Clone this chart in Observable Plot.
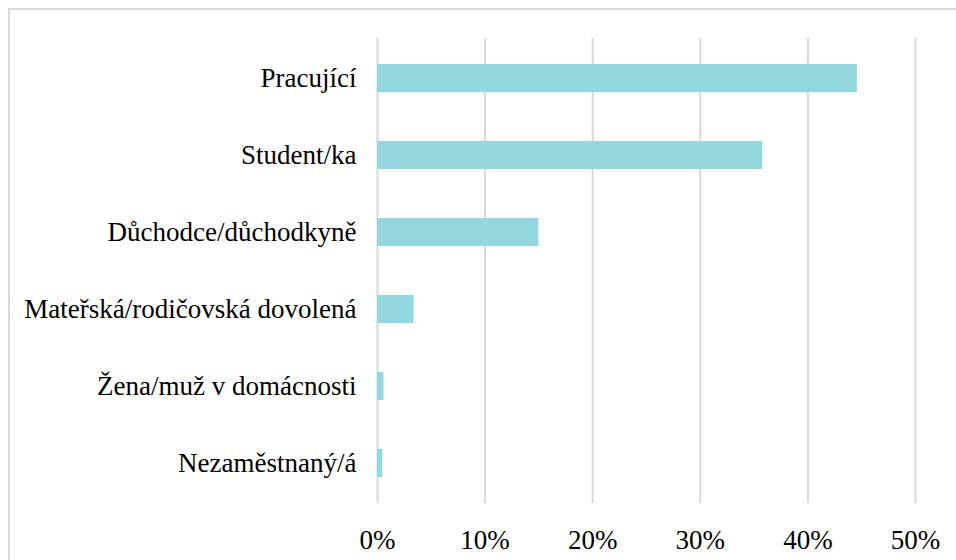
<!DOCTYPE html>
<html>
<head>
<meta charset="utf-8">
<script src="https://cdn.jsdelivr.net/npm/d3@7"></script>
<script src="https://cdn.jsdelivr.net/npm/@observablehq/plot@0.6"></script>
<style>
  html, body { margin: 0; padding: 0; background: #fff; }
  #wrap { position: relative; width: 956px; height: 560px; overflow: hidden; }
  #frame { position: absolute; left: 8px; top: 8px; width: 1000px; height: 600px;
           border-left: 2px solid #d9d9d9; border-top: 2px solid #d9d9d9; }
  #chart { position: absolute; left: 0; top: 0; }
  #chart svg, #chart svg text { font-family: "Liberation Serif", "Times New Roman", serif !important; }
</style>
</head>
<body>
<div id="wrap"><div id="frame"></div><div id="chart"></div></div>
<script>
const categories = [
  "Pracující",
  "Student/ka",
  "Důchodce/důchodkyně",
  "Mateřská/rodičovská dovolená",
  "Žena/muž v domácnosti",
  "Nezaměstnaný/á"
];
const values = [44.6, 35.8, 15.0, 3.4, 0.6, 0.5];
const xTicks = [0, 10, 20, 30, 40, 50];

const data = categories.map((c, i) => ({category: c, value: values[i]}));
const pct = d => d + "%";

const chart = Plot.plot({
  width: 956,
  height: 560,
  marginLeft: 377,
  marginRight: 41,
  marginTop: 38,
  marginBottom: 57,
  style: {
    fontSize: "27px",
    color: "#000",
    background: "transparent",
    overflow: "visible"
  },
  x: {domain: [0, 50], ticks: xTicks, tickFormat: pct, label: null},
  y: {domain: categories, paddingInner: 0.64, paddingOuter: 0.32, label: null},
  marks: [
    Plot.ruleX(xTicks, {stroke: "#d9d9d9", strokeWidth: 2, strokeOpacity: 1}),
    Plot.barX(data, {x: "value", y: "category", fill: "#93d7df"}),
    Plot.axisX({ticks: xTicks, tickSize: 0, tickPadding: 26, tickFormat: pct, label: null}),
    Plot.axisY({tickSize: 0, tickPadding: 21, label: null})
  ]
});
document.getElementById("chart").appendChild(chart);
</script>
</body>
</html>
